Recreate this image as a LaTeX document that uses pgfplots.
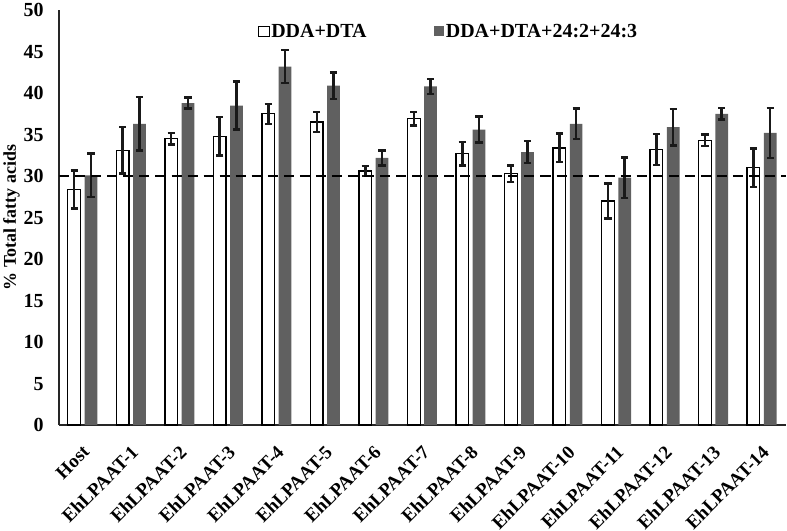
\documentclass[border=0pt]{standalone}
\usepackage{fontspec}
\setmainfont{Liberation Serif}
\usepackage{pgfplots}
\usepackage{pgfplotstable}
\pgfplotsset{compat=1.18}
\definecolor{bargray}{RGB}{96,96,96}

% x  white  err  gray  err
\pgfplotstableread{
x w we g ge
0 28.4 2.3 30.1 2.6
1 33.1 2.8 36.3 3.2
2 34.5 0.7 38.8 0.65
3 34.8 2.3 38.5 2.9
4 37.5 1.2 43.2 2.0
5 36.5 1.2 40.9 1.6
6 30.6 0.6 32.2 0.9
7 36.9 0.8 40.8 0.9
8 32.7 1.4 35.6 1.55
9 30.3 1.0 32.9 1.3
10 33.4 1.7 36.3 1.85
11 27.0 2.1 29.8 2.45
12 33.2 1.85 35.9 2.2
13 34.3 0.7 37.5 0.7
14 31.0 2.3 35.2 3.0
}\data

\begin{document}
\begin{tikzpicture}
\begin{axis}[
    scale only axis,
    width=725bp, height=414bp,
    xmin=-0.48, xmax=14.5,
    ymin=0, ymax=50,
    ytick={0,5,...,50},
    xtick={0,...,14},
    xticklabels={Host,EhLPAAT-1,EhLPAAT-2,EhLPAAT-3,EhLPAAT-4,EhLPAAT-5,EhLPAAT-6,EhLPAAT-7,EhLPAAT-8,EhLPAAT-9,EhLPAAT-10,EhLPAAT-11,EhLPAAT-12,EhLPAAT-13,EhLPAAT-14},
    axis x line*=bottom, axis y line*=left,
    axis line style={line width=1.8bp, black!85},
    major tick length=0pt,
    /pgf/number format/assume math mode=true,
    yticklabel style={font=\bfseries\fontsize{20}{22}\selectfont, xshift=-12bp},
    xticklabel style={font=\bfseries\fontsize{19}{21}\selectfont,
        anchor=north east, inner sep=0pt, xshift=-1bp, yshift=-19bp, rotate=45},
    ylabel={\% Total fatty acids},
    ylabel style={font=\bfseries\fontsize{18}{20}\selectfont, yshift=-3bp},
    legend style={draw=none, fill=none, at={(0.536,0.949)}, anchor=center,
        font=\bfseries\fontsize{20}{22}\selectfont,
        /tikz/every even column/.append style={column sep=65bp}},
    legend columns=2,
    error bars/error bar style={line width=2.5bp, black!90},
    error bars/error mark options={rotate=90, mark size=3.6bp, line width=2.5bp, black!90},
]
\addplot[ybar, bar width=12.7bp, bar shift=0pt, fill=white, draw=black, line width=1.3bp,
    legend image code/.code={\draw[fill=white, draw=black, line width=0.8bp] (0bp,-5bp) rectangle (10bp,5bp);},
    error bars/.cd, y dir=both, y explicit]
    table[x expr=\thisrow{x}-0.1725, y=w, y error=we] {\data};
\addlegendentry{DDA+DTA}
\addplot[ybar, bar width=12.7bp, bar shift=0pt, fill=bargray, draw=none,
    legend image code/.code={\fill[bargray] (0bp,-5bp) rectangle (10bp,5bp);},
    error bars/.cd, y dir=both, y explicit]
    table[x expr=\thisrow{x}+0.1725, y=g, y error=ge] {\data};
\addlegendentry{DDA+DTA+24:2+24:3}
\addplot[black, line width=2.8bp, dash pattern=on 10bp off 6bp, forget plot]
    coordinates {(-0.48,30) (14.5,30)};
\end{axis}
\end{tikzpicture}
\end{document}
